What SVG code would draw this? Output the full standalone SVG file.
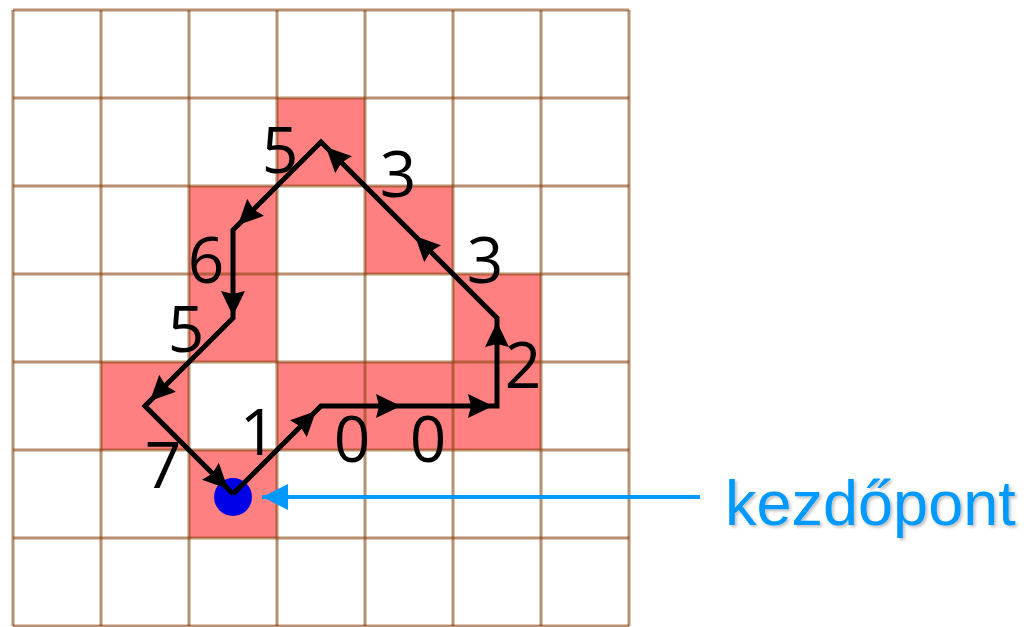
<svg xmlns="http://www.w3.org/2000/svg" width="1028" height="627" viewBox="0 0 1028 627">
  <defs>
    <style>
      .cell { fill: #ff8080; }
      .grid { stroke: #8b4513; stroke-opacity: 0.6; stroke-width: 3; fill: none; }
      .chain { stroke: #000; stroke-width: 5; fill: none; stroke-linejoin: miter; }
      .tip { stroke: none; fill: none; marker-end: url(#ah); }
      .lbl { font-family: "Open Sans", "DejaVu Sans", sans-serif; font-size: 64px; fill: #000; text-anchor: middle; }
      .note { font-family: "Liberation Sans", Arial, sans-serif; font-size: 63px; fill: #0099ff; }
    </style>
    <marker id="ah" viewBox="0 0 25 24" refX="25" refY="12" markerWidth="25" markerHeight="24" markerUnits="userSpaceOnUse" orient="auto">
      <path d="M0,0 L25,12 L0,24 L3,12 z" fill="#000"/>
    </marker>
    <marker id="bh" viewBox="0 0 26 26" refX="26" refY="13" markerWidth="26" markerHeight="26" markerUnits="userSpaceOnUse" orient="auto">
      <path d="M0,0 L26,13 L0,26 z" fill="#0099ff"/>
    </marker>
    <filter id="sh" x="-5%" y="-20%" width="110%" height="140%">
      <feDropShadow dx="2" dy="2" stdDeviation="1.5" flood-color="#000" flood-opacity="0.25"/>
    </filter>
  </defs>

  <rect width="1028" height="627" fill="#fff"/>

  <g id="filled-cells">
    <rect class="cell" x="277" y="98" width="88" height="88"/>
    <rect class="cell" x="189" y="186" width="88" height="88"/>
    <rect class="cell" x="365" y="186" width="88" height="88"/>
    <rect class="cell" x="189" y="274" width="88" height="88"/>
    <rect class="cell" x="453" y="274" width="88" height="88"/>
    <rect class="cell" x="101" y="362" width="88" height="88"/>
    <rect class="cell" x="277" y="362" width="264" height="88"/>
    <rect class="cell" x="189" y="450" width="88" height="88"/>
  </g>

  <g id="grid" class="grid">
    <path d="M13,10 V626 M101,10 V626 M189,10 V626 M277,10 V626 M365,10 V626 M453,10 V626 M541,10 V626 M629,10 V626"/>
    <path d="M13,10 H629 M13,98 H629 M13,186 H629 M13,274 H629 M13,362 H629 M13,450 H629 M13,538 H629 M13,626 H629"/>
  </g>

  <g id="start-point">
    <circle cx="233" cy="497" r="19" fill="#0000e6"/>
  </g>

  <g id="connectors">
    <path class="chain" d="M233,494 L321,406 L497,406 L497,318 L321,142 L233,230 L233,318 L145,406 L233,494"/>
    <line class="tip" x1="233" y1="494" x2="316" y2="411"/>
    <line class="tip" x1="321" y1="406" x2="401" y2="406"/>
    <line class="tip" x1="409" y1="406" x2="493" y2="406"/>
    <line class="tip" x1="497" y1="406" x2="497" y2="322"/>
    <line class="tip" x1="497" y1="318" x2="415" y2="236"/>
    <line class="tip" x1="409" y1="230" x2="326" y2="147"/>
    <line class="tip" x1="321" y1="142" x2="238" y2="225"/>
    <line class="tip" x1="233" y1="230" x2="233" y2="316"/>
    <line class="tip" x1="233" y1="318" x2="150" y2="401"/>
    <line class="tip" x1="145" y1="406" x2="228" y2="489"/>
    <line x1="700" y1="497" x2="262" y2="497" stroke="#0099ff" stroke-width="4" marker-end="url(#bh)"/>
  </g>

  <g id="labels">
    <text class="lbl" x="280" y="173">5</text>
    <text class="lbl" x="398" y="197">3</text>
    <text class="lbl" x="485" y="283">3</text>
    <text class="lbl" x="206" y="283">6</text>
    <text class="lbl" x="186" y="352">5</text>
    <text class="lbl" x="523" y="388">2</text>
    <text class="lbl" x="258" y="455">1</text>
    <text class="lbl" x="352" y="462">0</text>
    <text class="lbl" x="428" y="462">0</text>
    <text class="lbl" x="163" y="488">7</text>
  </g>

  <g id="kezdopont-label">
    <text class="note" x="725" y="525" filter="url(#sh)">kezdőpont</text>
  </g>
</svg>
